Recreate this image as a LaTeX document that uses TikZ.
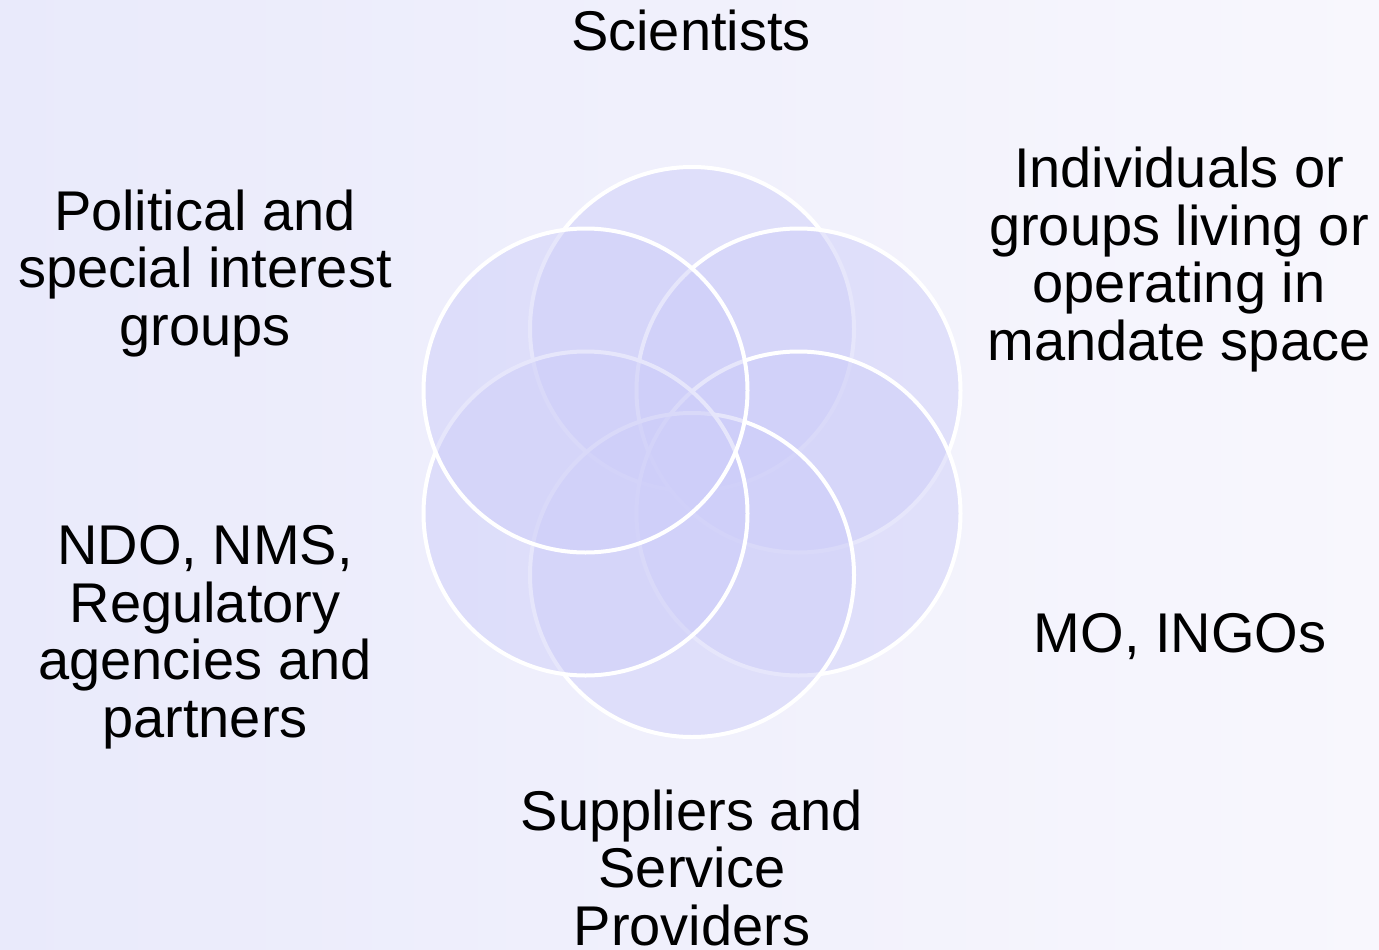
\documentclass[tikz,border=0pt]{standalone}
\usepackage{fontspec}
\setmainfont{Liberation Sans}
\begin{document}
\definecolor{bgleft}{RGB}{233,234,251}
\definecolor{bgright}{RGB}{248,247,253}
\definecolor{petal}{RGB}{206,206,249}
\begin{tikzpicture}[x=1pt,y=-1pt,
  petalc/.style={circle, minimum size=324pt, inner sep=0pt, fill=petal, fill opacity=0.5,
                 draw=white, draw opacity=1, line width=4pt},
  label/.style={anchor=base, align=center, inner sep=0pt, text=black,
                font=\fontsize{56pt}{57.5pt}\selectfont}]
  % background
  \shade[left color=bgleft, right color=bgright] (0,0) rectangle (1379,950);
  \useasboundingbox (0,0) rectangle (1379,950);

  % six overlapping circles, drawn from top clockwise round to the upper left
  \node[petalc] (ctop) at (692,329) {};
  \node[petalc] (cur)  at (798.5,390.5) {};
  \node[petalc] (clr)  at (798.5,513.5) {};
  \node[petalc] (cbot) at (692,575) {};
  \node[petalc] (cll)  at (585.5,513.5) {};
  \node[petalc] (cul)  at (585.5,390.5) {};

  % stakeholder labels (base anchor = baseline of the last line)
  \node[label] (sci) at (691,51) {Scientists};
  \node[label] (pol) at (205,345) {Political and\\special interest\\groups};
  \node[label] (ind) at (1179,360) {Individuals or\\groups living or\\operating in\\mandate space};
  \node[label] (ndo) at (205,737) {NDO, NMS,\\Regulatory\\agencies and\\partners};
  \node[label] (mo)  at (1180,652) {MO, INGOs};
  \node[label] (sup) at (692,945) {Suppliers and\\Service\\Providers};
\end{tikzpicture}
\end{document}
